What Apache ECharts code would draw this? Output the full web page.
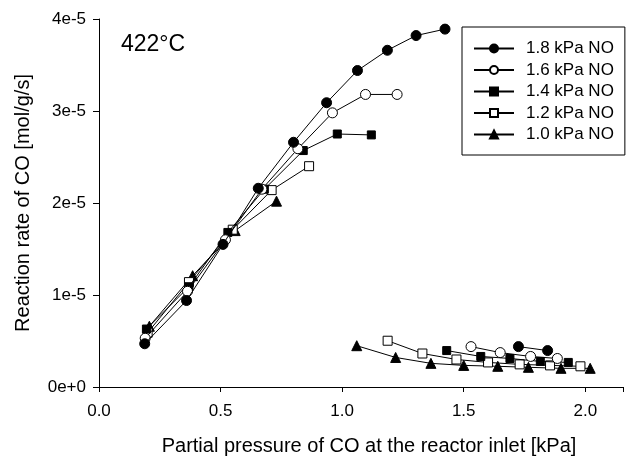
<!DOCTYPE html>
<html>
<head>
<meta charset="utf-8">
<script src="https://cdn.jsdelivr.net/npm/echarts@6/dist/echarts.min.js"></script>
<style>html,body{margin:0;padding:0;background:#fff}#c{width:626px;height:461px}</style>
</head>
<body>
<div id="c"></div>
<script>
// Series names
const seriesNames = ['1.8 kPa NO', '1.6 kPa NO', '1.4 kPa NO', '1.2 kPa NO', '1.0 kPa NO'];
// Tick labels
const yTickLabels = ['0e+0', '1e-5', '2e-5', '3e-5', '4e-5'];
const xTickLabels = ['0.0', '0.5', '1.0', '1.5', '2.0'];

// Upper branch and lower branch for each series ([x kPa, rate mol/g/s])
const no18Upper = [[0.188,4.7e-6],[0.36,9.4e-6],[0.51,1.55e-5],[0.655,2.16e-5],[0.80,2.66e-5],[0.936,3.09e-5],[1.063,3.44e-5],[1.186,3.66e-5],[1.304,3.82e-5],[1.423,3.89e-5]];
const no18Lower = [[1.725,4.39e-6],[1.845,3.96e-6]];
const no16Upper = [[0.19,5.3e-6],[0.364,1.04e-5],[0.52,1.60e-5],[0.67,2.15e-5],[0.818,2.59e-5],[0.96,2.98e-5],[1.096,3.18e-5],[1.226,3.18e-5]];
const no16Lower = [[1.53,4.39e-6],[1.65,3.74e-6],[1.775,3.32e-6],[1.885,3.10e-6]];
const no14Upper = [[0.195,6.3e-6],[0.37,1.09e-5],[0.53,1.68e-5],[0.68,2.15e-5],[0.84,2.57e-5],[0.98,2.75e-5],[1.12,2.74e-5]];
const no14Lower = [[1.43,3.96e-6],[1.57,3.32e-6],[1.69,3.10e-6],[1.815,2.78e-6],[1.93,2.67e-6]];
const no12Upper = [[0.2,5.9e-6],[0.37,1.14e-5],[0.55,1.71e-5],[0.71,2.14e-5],[0.864,2.40e-5]];
const no12Lower = [[1.187,5.03e-6],[1.33,3.64e-6],[1.47,2.99e-6],[1.60,2.67e-6],[1.73,2.46e-6],[1.855,2.35e-6],[1.98,2.25e-6]];
const no10Upper = [[0.207,6.6e-6],[0.385,1.21e-5],[0.56,1.70e-5],[0.73,2.02e-5]];
const no10Lower = [[1.06,4.49e-6],[1.22,3.21e-6],[1.365,2.57e-6],[1.50,2.35e-6],[1.64,2.25e-6],[1.766,2.14e-6],[1.90,2.03e-6],[2.02,2.03e-6]];

const upper = [no18Upper, no16Upper, no14Upper, no12Upper, no10Upper];
const lower = [no18Lower, no16Lower, no14Lower, no12Lower, no10Lower];
const symbols = ['circle', 'circle', 'rect', 'rect', 'triangle'];
const filled = [true, false, true, false, true];
const symSizes = [10, 10, 8, 9, 10];

const FONT = 'Liberation Sans';
const chart = echarts.init(document.getElementById('c'), null, {renderer: 'canvas'});

const series = seriesNames.map((name, i) => ({
  name: name,
  type: 'line',
  data: upper[i].concat([[null, null]], lower[i]),
  connectNulls: false,
  symbol: symbols[i],
  symbolSize: symSizes[i],
  showAllSymbol: true,
  lineStyle: {color: '#000', width: 1},
  itemStyle: {color: filled[i] ? '#000' : '#fff', borderColor: '#000', borderWidth: 1},
  emphasis: {disabled: true},
  animation: false,
  z: 10 - i
}));

chart.setOption({
  animation: false,
  backgroundColor: '#fff',
  textStyle: {fontFamily: FONT, color: '#000'},
  title: {
    text: '422°C', left: 116, top: 28,
    textStyle: {fontFamily: FONT, fontSize: 23, fontWeight: 'normal', color: '#000'}
  },
  grid: {left: 99, top: 19, right: 0, bottom: 68, containLabel: false},
  legend: {
    orient: 'vertical', left: 462, top: 27,
    data: seriesNames,
    itemWidth: 40, itemHeight: 10, itemGap: 4.5,
    padding: [13, 11, 12, 11],
    borderColor: '#000', borderWidth: 1, backgroundColor: '#fff',
    textStyle: {fontFamily: FONT, fontSize: 17, color: '#000', padding: [0, 0, 0, 7]}
  },
  xAxis: [{
    type: 'value', min: 0, max: 2.155, interval: 0.5,
    name: 'Partial pressure of CO at the reactor inlet [kPa]',
    nameLocation: 'middle', nameGap: 49,
    nameTextStyle: {fontFamily: FONT, fontSize: 20, color: '#000', padding: [0, 0, 0, 16]},
    axisLine: {show: true, onZero: false, lineStyle: {color: '#000', width: 1}},
    axisTick: {show: true, inside: false, length: 5, lineStyle: {color: '#000'}},
    axisLabel: {
      fontFamily: FONT, fontSize: 17, color: '#000', margin: 16,
      formatter: v => { const k = Math.round(v / 0.5); return Math.abs(v - k * 0.5) < 1e-9 ? xTickLabels[k] : ''; }
    },
    splitLine: {show: false}
  }, {
    type: 'value', position: 'top', min: 0, max: 2.155,
    axisLine: {show: true, lineStyle: {color: '#000', width: 1}},
    axisTick: {show: false}, axisLabel: {show: false}, splitLine: {show: false}
  }],
  yAxis: {
    type: 'value', min: 0, max: 4e-5, interval: 1e-5,
    name: 'Reaction rate of CO [mol/g/s]',
    nameLocation: 'middle', nameGap: 66,
    nameTextStyle: {fontFamily: FONT, fontSize: 20, color: '#000'},
    axisLine: {show: true, onZero: false, lineStyle: {color: '#000', width: 1}},
    axisTick: {show: true, inside: false, length: 6, lineStyle: {color: '#000'}},
    axisLabel: {
      fontFamily: FONT, fontSize: 17, color: '#000', margin: 13,
      formatter: v => yTickLabels[Math.round(v / 1e-5)] || ''
    },
    splitLine: {show: false}
  },
  series: series
});
</script>
</body>
</html>
